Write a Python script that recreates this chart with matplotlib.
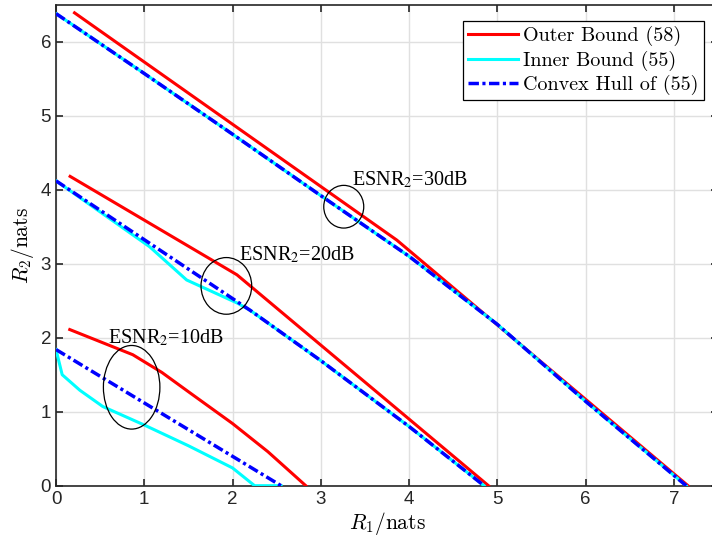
import numpy as np
import matplotlib
matplotlib.use('Agg')
import matplotlib.pyplot as plt
from matplotlib.patches import Ellipse

plt.rcParams['mathtext.fontset'] = 'cm'
plt.rcParams['font.family'] = ['Liberation Sans', 'DejaVu Sans']

# ESNR2 = 30 dB
x30_outer = [0.21, 3.86, 7.16]
y30_outer = [6.39, 3.32, 0.0]
x30_inner = [0, 1, 2, 3, 4, 5, 6, 7.14]
y30_inner = [6.38, 5.57, 4.75, 3.92, 3.10, 2.18, 1.14, 0.0]
x30_hull = [0, 1, 2, 3, 4, 5, 6, 7.14]
y30_hull = [6.38, 5.57, 4.75, 3.92, 3.10, 2.18, 1.14, 0.0]

# ESNR2 = 20 dB
x20_outer = [0.16, 2.05, 4.90]
y20_outer = [4.18, 2.85, 0.0]
x20_inner = [0, 0.5, 1.06, 1.48, 2.05, 2.2, 3, 4, 4.85]
y20_inner = [4.12, 3.70, 3.23, 2.78, 2.47, 2.37, 1.69, 0.80, 0.0]
x20_hull = [0, 2.2, 3, 4, 4.85]
y20_hull = [4.12, 2.37, 1.69, 0.80, 0.0]

# ESNR2 = 10 dB
x10_outer = [0.156, 0.87, 1.2, 1.5, 2.0, 2.4, 2.83]
y10_outer = [2.11, 1.77, 1.53, 1.27, 0.84, 0.46, 0.0]
x10_inner = [0, 0.07, 0.27, 0.53, 1.0, 1.5, 2.0, 2.25, 2.55]
y10_inner = [1.84, 1.50, 1.29, 1.07, 0.82, 0.54, 0.24, 0.0, 0.0]
x10_hull = [0, 2.55]
y10_hull = [1.84, 0.0]

# annotations: label, text position, ellipse centre, ellipse width/height
notes = [
    ("ESNR$_2$=10dB", (0.59, 1.93), (0.857, 1.33), 0.64, 1.13),
    ("ESNR$_2$=20dB", (2.07, 3.04), (1.93, 2.70), 0.574, 0.766),
    ("ESNR$_2$=30dB", (3.35, 4.06), (3.26, 3.77), 0.453, 0.577),
]

fig = plt.figure(figsize=(7.12, 5.38), dpi=100)
ax = fig.add_axes([56 / 712, 52.3 / 538, 662 / 712, 481 / 538])

dash = (0, (3.0, 1.0, 0.9, 1.0))
outers = [(x30_outer, y30_outer), (x20_outer, y20_outer), (x10_outer, y10_outer)]
inners = [(x30_inner, y30_inner), (x20_inner, y20_inner), (x10_inner, y10_inner)]
hulls = [(x30_hull, y30_hull), (x20_hull, y20_hull), (x10_hull, y10_hull)]

for i in range(3):
    ax.plot(*outers[i], color='red', lw=2.2, label='Outer Bound (58)' if i == 0 else None, zorder=3)
    ax.plot(*inners[i], color='cyan', lw=2.2, label='Inner Bound (55)' if i == 0 else None, zorder=4)
    ax.plot(*hulls[i], color='blue', lw=2.5, linestyle=dash,
            label='Convex Hull of (55)' if i == 0 else None, zorder=5)

for txt, tpos, cpos, w, h in notes:
    ax.text(tpos[0], tpos[1], txt, fontsize=14.5, family=['Liberation Serif', 'DejaVu Serif'],
            math_fontfamily='stix', ha='left', va='baseline', zorder=6)
    ax.add_patch(Ellipse(cpos, w, h, fill=False, edgecolor='black', lw=0.9, zorder=6))

ax.set_xlim(0, 7.5)
ax.set_ylim(0, 6.5)
ax.set_xticks(range(0, 8))
ax.set_yticks(range(0, 7))
ax.grid(True, color='#e0e0e0', lw=1.0)
ax.set_axisbelow(True)
ax.tick_params(direction='in', top=True, right=True, length=5, width=1.2,
               labelsize=13.5, color='#262626', labelcolor='#262626')
for s in ax.spines.values():
    s.set_color('#262626')
    s.set_linewidth(1.2)

ax.set_xlabel(r'$R_1/\mathrm{nats}$', fontsize=15.5, labelpad=2)
ax.set_ylabel(r'$R_2/\mathrm{nats}$', fontsize=15.5, labelpad=3)

leg = ax.legend(loc='upper right', bbox_to_anchor=(704 / 712, 1 - 21 / 538),
                bbox_transform=fig.transFigure, borderaxespad=0,
                prop={'family': 'cmr10', 'size': 14.5}, fancybox=False,
                framealpha=1, edgecolor='black', handlelength=2.5,
                handletextpad=0.25, borderpad=0.25, labelspacing=0.22)
leg.get_frame().set_linewidth(0.9)

plt.savefig('out.png', dpi=100)
